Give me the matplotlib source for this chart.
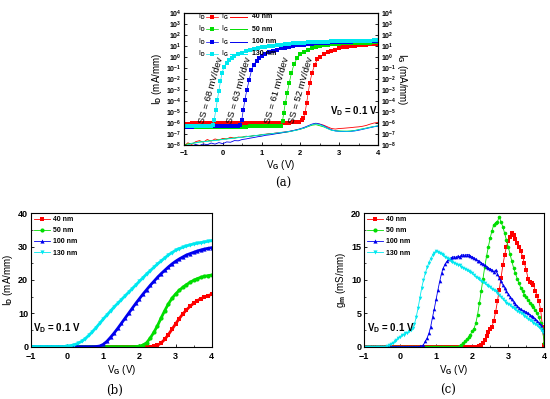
import matplotlib
matplotlib.use("Agg")
import matplotlib.pyplot as plt
from matplotlib.lines import Line2D
from matplotlib.ticker import NullLocator, MultipleLocator
import numpy as np

plt.rcParams.update({
    "font.family": ["Liberation Sans", "DejaVu Sans"],
    "font.weight": "bold",
    "mathtext.fontset": "custom",
    "mathtext.rm": "Liberation Sans:bold",
    "mathtext.bf": "Liberation Sans:bold",
    "mathtext.it": "Liberation Sans:bold",
    "axes.linewidth": 0.8,
})

NAMES = ["40 nm", "50 nm", "100 nm", "130 nm"]
COLORS = ["#FF0000", "#00DD00", "#0000EE", "#00E8F0"]
MARKERS = ["s", "o", "^", "v"]
SS_TEXT = ["SS = 52 mV/dev", "SS = 61 mV/dev", "SS = 63 mV/dev", "SS = 68 mV/dev"]
SS_POS = [(2.01, 1e-3), (1.40, 1e-3), (0.41, 1e-3), (-0.31, 1e-3)]

# ---------- (a) transfer curves, log scale ----------
VG_A_40 = [-1.0, -0.9, -0.8, -0.7, -0.6, -0.5, -0.4, -0.3, -0.2, -0.1, 0.0, 0.1, 0.2, 0.3, 0.4,
           0.5, 0.6, 0.7, 0.8, 0.9, 1.0, 1.1, 1.2, 1.3, 1.4, 1.5, 1.6, 1.7, 1.8, 1.9,
           1.96, 2.04, 2.08, 2.12, 2.16, 2.2, 2.24, 2.3, 2.37, 2.44,
           2.5, 2.6, 2.7, 2.8, 2.9, 3.0, 3.1, 3.2, 3.3, 3.4, 3.5, 3.6, 3.7, 3.8, 3.9, 4.0]
ID_A_40 = [9.0e-7, 9.0e-7, 9.1e-7, 9.1e-7, 9.2e-7, 9.2e-7, 9.3e-7, 9.3e-7, 9.4e-7, 9.4e-7,
           9.5e-7, 9.5e-7, 9.6e-7, 9.6e-7, 9.7e-7, 9.7e-7, 9.8e-7, 9.8e-7, 9.9e-7, 1.0e-6,
           1.0e-6, 1.01e-6, 1.02e-6, 1.03e-6, 1.04e-6, 1.05e-6, 1.07e-6, 1.09e-6, 1.12e-6, 1.15e-6,
           1.3e-6, 1.7e-6, 3e-6, 8e-6, 6e-5, 5e-4, 4e-3, 3.5e-2, 0.2, 0.6,
           1.0, 1.7, 2.6, 3.6, 4.8, 6.1, 7.4, 8.6, 9.7, 10.7, 11.6, 12.4, 13.1, 13.8, 14.4, 15.0]

VG_A_50 = [-1.0, -0.9, -0.8, -0.7, -0.6, -0.5, -0.4, -0.3, -0.2, -0.1, 0.0, 0.1, 0.2, 0.3, 0.4,
           0.5, 0.6, 0.7, 0.8, 0.9, 1.0, 1.1, 1.2, 1.3, 1.4, 1.5,
           1.54, 1.57, 1.61, 1.66, 1.71, 1.77, 1.84, 1.92, 2.0,
           2.1, 2.2, 2.3, 2.4, 2.5, 2.6, 2.7, 2.8, 2.9, 3.0, 3.1, 3.2, 3.3, 3.4, 3.5, 3.6, 3.7,
           3.8, 3.9, 4.0]
ID_A_50 = [4.3e-7, 4.3e-7, 4.4e-7, 4.4e-7, 4.4e-7, 4.5e-7, 4.5e-7, 4.5e-7, 4.6e-7, 4.6e-7,
           4.6e-7, 4.7e-7, 4.7e-7, 4.7e-7, 4.8e-7, 4.8e-7, 4.8e-7, 4.9e-7, 4.9e-7, 4.9e-7,
           5.0e-7, 5.0e-7, 5.0e-7, 5.1e-7, 5.1e-7, 5.2e-7,
           1.5e-6, 8e-6, 6e-5, 5e-4, 4e-3, 3.5e-2, 0.25, 0.8, 1.7,
           3.0, 4.6, 6.4, 8.2, 10.0, 11.7, 13.2, 14.5, 15.6, 16.5, 17.3, 18.0, 18.6, 19.1, 19.6,
           20.0, 20.4, 20.8, 21.1, 21.4]

VG_A_100 = [-1.0, -0.9, -0.8, -0.7, -0.6, -0.5, -0.4, -0.3, -0.2, -0.1, 0.0, 0.1, 0.2, 0.3, 0.4,
            0.45, 0.49, 0.53, 0.57, 0.62, 0.68, 0.74, 0.8, 0.87, 0.94,
            1.0, 1.1, 1.2, 1.3, 1.4, 1.5, 1.6, 1.7, 1.8, 1.9, 2.0, 2.1, 2.2, 2.3, 2.4, 2.5, 2.6,
            2.7, 2.8, 2.9, 3.0, 3.1, 3.2, 3.3, 3.4, 3.5, 3.6, 3.7, 3.8, 3.9, 4.0]
ID_A_100 = [4.8e-7, 4.8e-7, 4.8e-7, 4.9e-7, 4.9e-7, 4.9e-7, 4.9e-7, 5.0e-7, 5.0e-7, 5.0e-7,
            5.0e-7, 5.1e-7, 5.1e-7, 5.1e-7, 5.2e-7,
            7e-7, 2e-6, 1.6e-5, 1.3e-4, 1e-3, 8e-3, 6e-2, 0.2, 0.45, 0.8,
            1.2, 1.9, 2.7, 3.7, 4.8, 6.0, 7.3, 8.6, 9.9, 11.2, 12.5, 13.7, 14.9, 16.1, 17.2,
            18.3, 19.3, 20.3, 21.2, 22.1, 22.9, 23.7, 24.4, 25.1, 25.8, 26.4, 27.0, 27.6, 28.1,
            28.6, 29.1]

VG_A_130 = [-1.0, -0.9, -0.8, -0.7, -0.6, -0.5, -0.4, -0.3,
            -0.26, -0.22, -0.18, -0.14, -0.1, -0.06, -0.02, 0.03, 0.1, 0.17, 0.24,
            0.3, 0.4, 0.5, 0.6, 0.7, 0.8, 0.9, 1.0, 1.1, 1.2, 1.3, 1.4, 1.5, 1.6, 1.7, 1.8, 1.9,
            2.0, 2.1, 2.2, 2.3, 2.4, 2.5, 2.6, 2.7, 2.8, 2.9, 3.0, 3.1, 3.2, 3.3, 3.4, 3.5, 3.6,
            3.7, 3.8, 3.9, 4.0]
ID_A_130 = [5.4e-7, 5.4e-7, 5.5e-7, 5.5e-7, 5.5e-7, 5.6e-7, 5.6e-7, 5.7e-7,
            7e-7, 2e-6, 1.5e-5, 1.2e-4, 9e-4, 6e-3, 3.5e-2, 0.12, 0.3, 0.55, 0.9,
            1.2, 1.8, 2.5, 3.3, 4.2, 5.2, 6.3, 7.4, 8.6, 9.8, 11.0, 12.2, 13.4, 14.6, 15.8, 16.9,
            18.0, 19.1, 20.1, 21.1, 22.1, 23.0, 23.9, 24.8, 25.6, 26.4, 27.1, 27.8, 28.4, 29.0,
            29.5, 30.0, 30.4, 30.8, 31.2, 31.5, 31.8, 32.1]

# gate leakage, log10 of I_G (mA/mm)
VG_IG = [-1.0, -0.9, -0.8, -0.7, -0.6, -0.5, -0.4, -0.3, -0.2, -0.1, 0.0, 0.1, 0.2, 0.3, 0.4,
         0.5, 0.6, 0.7, 0.8, 0.9, 1.0, 1.1, 1.2, 1.3, 1.4, 1.5, 1.6, 1.7, 1.8, 1.9, 2.0, 2.1,
         2.2, 2.3, 2.4, 2.5, 2.6, 2.7, 2.8, 2.9, 3.0, 3.1, 3.2, 3.3, 3.4, 3.5, 3.6, 3.7, 3.8,
         3.9, 4.0]
LOG_IG_40 = [-8.1, -7.8, -7.95, -7.7, -7.6, -7.75, -7.5, -7.65, -7.45, -7.55, -7.4, -7.45,
             -7.3, -7.38, -7.28, -7.3, -7.2, -7.25, -7.12, -7.15, -7.05, -7.02, -6.96, -6.95,
             -6.88, -6.87, -6.8, -6.76, -6.7, -6.62, -6.55, -6.45, -6.3, -6.15, -6.05, -6.1,
             -6.2, -6.35, -6.5, -6.55, -6.5, -6.48, -6.45, -6.42, -6.38, -6.35, -6.3, -6.22,
             -6.1, -6.0, -5.95]
LOG_IG_50 = [-8.0, -7.9, -7.85, -7.8, -7.72, -7.7, -7.65, -7.6, -7.58, -7.52, -7.48, -7.44,
             -7.4, -7.36, -7.32, -7.28, -7.24, -7.2, -7.16, -7.12, -7.08, -7.04, -7.0, -6.98,
             -6.95, -6.9, -6.85, -6.8, -6.72, -6.65, -6.56, -6.45, -6.32, -6.2, -6.15, -6.25,
             -6.35, -6.5, -6.65, -6.7, -6.72, -6.74, -6.74, -6.72, -6.68, -6.6, -6.53, -6.46,
             -6.38, -6.32, -6.27]
LOG_IG_100 = [-8.3, -8.2, -8.1, -7.95, -8.05, -7.9, -7.98, -7.82, -7.92, -7.78, -7.88, -7.72,
              -7.75, -7.6, -7.62, -7.5, -7.45, -7.38, -7.32, -7.25, -7.2, -7.12, -7.08, -7.02,
              -6.96, -6.9, -6.84, -6.78, -6.7, -6.62, -6.52, -6.4, -6.25, -6.1, -6.02, -6.1,
              -6.25, -6.45, -6.62, -6.72, -6.76, -6.78, -6.78, -6.76, -6.72, -6.66, -6.58, -6.5,
              -6.42, -6.34, -6.28]
LOG_IG_130 = [-8.1, -8.0, -7.85, -7.8, -7.75, -7.7, -7.68, -7.62, -7.6, -7.55, -7.5, -7.45,
              -7.42, -7.38, -7.33, -7.3, -7.25, -7.2, -7.17, -7.12, -7.08, -7.03, -7.0, -6.95,
              -6.9, -6.85, -6.82, -6.78, -6.72, -6.65, -6.55, -6.45, -6.3, -6.15, -6.08, -6.15,
              -6.3, -6.5, -6.65, -6.72, -6.75, -6.75, -6.76, -6.75, -6.7, -6.62, -6.55, -6.48,
              -6.4, -6.32, -6.25]

# ---------- (b) transfer curves, linear ----------
VG_B = [-1.0, -0.9, -0.8, -0.7, -0.6, -0.5, -0.4, -0.3, -0.2, -0.1, 0.0, 0.1, 0.2, 0.3, 0.4,
        0.5, 0.6, 0.7, 0.8, 0.9, 1.0, 1.1, 1.2, 1.3, 1.4, 1.5, 1.6, 1.7, 1.8, 1.9, 2.0, 2.1,
        2.2, 2.3, 2.4, 2.5, 2.6, 2.7, 2.8, 2.9, 3.0, 3.1, 3.2, 3.3, 3.4, 3.5, 3.6, 3.7, 3.8,
        3.9, 4.0]
ID_B_40 = [0, 0, 0, 0, 0, 0, 0, 0, 0, 0, 0, 0, 0, 0, 0, 0, 0, 0, 0, 0, 0, 0, 0, 0, 0, 0, 0,
           0, 0, 0, 0, 0, 0, 0,
           0.1, 0.4, 1.1, 2.2, 3.6, 5.2, 6.8, 8.4, 9.8, 11.0, 12.1, 13.0, 13.8, 14.4, 14.9,
           15.3, 15.7]
ID_B_50 = [0, 0, 0, 0, 0, 0, 0, 0, 0, 0, 0, 0, 0, 0, 0, 0, 0, 0, 0, 0, 0, 0, 0, 0, 0, 0, 0,
           0, 0,
           0.05, 0.15, 0.5, 1.2, 2.6, 4.3, 6.3, 8.6, 10.8, 12.8, 14.5, 15.8, 16.9, 17.8, 18.6,
           19.3, 19.9, 20.4, 20.8, 21.1, 21.3, 21.5]
ID_B_100 = [0, 0, 0, 0, 0, 0, 0, 0, 0, 0, 0, 0, 0, 0, 0, 0, 0, 0,
            0.05, 0.2, 0.7, 1.6, 2.8, 4.1, 5.5, 7.0, 8.5, 10.0, 11.5, 13.0, 14.4, 15.8, 17.1,
            18.4, 19.6, 20.8, 21.9, 22.9, 23.9, 24.8, 25.6, 26.3, 26.9, 27.5, 27.9, 28.3, 28.7,
            29.0, 29.3, 29.5, 29.7]
ID_B_130 = [0, 0, 0, 0, 0, 0, 0, 0, 0,
            0.02, 0.08, 0.3, 0.6, 1.0, 1.6, 2.4, 3.4, 4.5, 5.7, 7.0, 8.3, 9.5, 10.7, 11.9, 13.0,
            14.1, 15.2, 16.3, 17.4, 18.5, 19.6, 20.7, 21.8, 22.8, 23.8, 24.8, 25.7, 26.6, 27.5,
            28.2, 28.9, 29.4, 29.8, 30.2, 30.5, 30.8, 31.0, 31.2, 31.4, 31.6, 31.8]

# ---------- (c) transconductance ----------
VG_C = [-1.0, -0.95, -0.9, -0.85, -0.8, -0.75, -0.7, -0.65, -0.6, -0.55, -0.5, -0.45, -0.4,
        -0.35, -0.3, -0.25, -0.2, -0.15, -0.1, -0.05, 0.0, 0.05, 0.1, 0.15, 0.2, 0.25, 0.3,
        0.35, 0.4, 0.45, 0.5, 0.55, 0.6, 0.65, 0.7, 0.75, 0.8, 0.85, 0.9, 0.95, 1.0, 1.05,
        1.1, 1.15, 1.2, 1.25, 1.3, 1.35, 1.4, 1.45, 1.5, 1.55, 1.6, 1.65, 1.7, 1.75, 1.8,
        1.85, 1.9, 1.95, 2.0, 2.05, 2.1, 2.15, 2.2, 2.25, 2.3, 2.35, 2.4, 2.45, 2.5, 2.55,
        2.6, 2.65, 2.7, 2.75, 2.8, 2.85, 2.9, 2.95, 3.0, 3.05, 3.1, 3.15, 3.2, 3.25, 3.3,
        3.35, 3.4, 3.45, 3.5, 3.55, 3.6, 3.65, 3.7, 3.75, 3.8, 3.85, 3.9, 3.95, 4.0]
GM_40 = [0, 0, 0, 0, 0, 0, 0, 0, 0, 0, 0, 0, 0, 0, 0, 0, 0, 0, 0, 0, 0, 0, 0, 0, 0, 0, 0, 0,
         0, 0, 0, 0, 0, 0, 0, 0, 0, 0, 0, 0, 0, 0, 0, 0, 0, 0, 0, 0, 0, 0, 0, 0, 0, 0, 0, 0,
         0, 0, 0, 0, 0, 0, 0, 0, 0.05,
         0.2, 0.5, 1.0, 1.6, 2.2, 2.6, 3.0, 3.9, 5.2, 6.8, 8.5, 10.3, 12.2, 13.7, 15.0, 15.9,
         16.5, 17.0, 16.8, 16.2, 15.6, 15.0, 14.3, 13.5, 12.5, 11.5, 10.2, 9.7, 9.6, 9.3, 8.4,
         7.6, 6.8, 5.5, 3.0, 0.3]
GM_50 = [0, 0, 0, 0, 0, 0, 0, 0, 0, 0, 0, 0, 0, 0, 0, 0, 0, 0, 0, 0, 0, 0, 0, 0, 0, 0, 0, 0,
         0, 0, 0, 0, 0, 0, 0, 0, 0, 0, 0, 0, 0, 0, 0, 0, 0, 0, 0, 0, 0, 0, 0, 0, 0,
         0.1, 0.3, 0.5, 0.8, 1.1, 1.4, 1.8, 2.3, 2.7, 3.5, 4.8, 6.5, 8.3, 10.2, 12.0, 13.6,
         15.0, 16.3, 17.4, 18.3, 18.6, 18.7, 19.5, 18.7, 18.0, 17.0, 16.0, 15.0, 13.9, 12.8,
         11.8, 11.0, 10.2, 9.5, 8.8, 8.3, 7.8, 7.4, 7.0, 6.6, 6.2, 5.9, 5.5, 5.0, 4.4, 3.6,
         2.6, 0.5]
GM_100 = [0, 0, 0, 0, 0, 0, 0, 0, 0, 0, 0, 0, 0, 0, 0, 0, 0, 0, 0, 0, 0, 0, 0, 0, 0, 0, 0,
          0, 0, 0, 0,
          0.05, 0.12, 0.3, 0.8, 1.3, 2.0, 3.0, 4.4, 5.7, 7.1, 8.5, 9.8, 11.0, 11.8, 12.4, 12.8,
          13.1, 13.3, 13.4, 13.5, 13.4, 13.6, 13.5, 13.7, 13.8, 13.7, 13.8, 13.8, 13.6, 13.5,
          13.3, 13.1, 12.9, 12.8, 12.6, 12.4, 12.2, 12.0, 11.8, 11.7, 11.5, 11.2, 11.5, 10.9,
          10.3, 9.8, 9.3, 8.8, 8.3, 7.9, 7.5, 7.1, 6.7, 6.4, 6.1, 5.8, 5.6, 5.4, 5.3, 5.2,
          5.0, 4.8, 4.6, 4.4, 4.2, 3.9, 3.6, 3.2, 2.7, 2.2]
GM_130 = [0, 0, 0, 0, 0, 0, 0, 0, 0, 0, 0, 0, 0,
          0.05, 0.2, 0.4, 0.6, 0.8, 1.0, 1.3, 1.5, 1.7, 1.8, 2.0, 2.1, 2.3, 2.5, 2.8, 3.4, 4.5,
          5.8, 7.3, 8.8, 10.0, 11.0, 11.9, 12.6, 13.2, 13.7, 14.1, 14.3, 14.2, 14.0, 13.9,
          13.7, 13.5, 13.3, 13.1, 12.9, 12.7, 12.6, 12.4, 12.3, 12.2, 12.0, 11.8, 11.7, 11.5,
          11.3, 11.2, 11.0, 10.8, 10.5, 10.3, 10.1, 9.9, 9.7, 9.5, 9.3, 9.1, 9.0, 8.7, 8.5,
          8.3, 8.0, 7.8, 7.5, 7.2, 6.9, 6.6, 6.4, 6.3, 6.0, 5.8, 5.6, 5.4, 5.2, 5.1, 4.9,
          4.6, 4.4, 4.2, 4.0, 3.8, 3.6, 3.4, 3.2, 2.9, 2.7, 2.3, 2.0]

ID_A = [(VG_A_40, ID_A_40), (VG_A_50, ID_A_50), (VG_A_100, ID_A_100), (VG_A_130, ID_A_130)]
LOG_IG = [LOG_IG_40, LOG_IG_50, LOG_IG_100, LOG_IG_130]
ID_B = [ID_B_40, ID_B_50, ID_B_100, ID_B_130]
GM = [GM_40, GM_50, GM_100, GM_130]

fig = plt.figure(figsize=(5.5, 3.99), dpi=100)


def style_axis(ax, size=6):
    ax.tick_params(direction="in", length=2.5, width=0.6, labelsize=size, pad=2)
    ax.tick_params(axis="x", pad=3.5)
    ax.tick_params(which="minor", direction="in", length=1.5, width=0.5)
    ax.set_xlim(-1, 4)
    ax.xaxis.set_major_locator(MultipleLocator(1))
    ax.xaxis.set_minor_locator(MultipleLocator(0.5))


# ---- panel (a)
ax = fig.add_axes([0.3345, 0.6366, 0.3527, 0.3308])
for (vg, idv), lig, c in zip(ID_A, LOG_IG, COLORS):
    ax.plot(VG_IG, np.power(10.0, lig), color=c, lw=0.6)
for (vg, idv), c in zip(ID_A, COLORS):
    ax.plot(vg, idv, color=c, lw=0.5, marker="s", ms=2.7, mec=c, mew=0)
ax.set_yscale("log")
ax.set_ylim(1e-8, 1e4)
exps = list(range(-8, 5))
ylabels = [r"$\mathbf{10^{%d}}$" % e for e in exps]
ax.set_yticks([10.0 ** e for e in exps])
ax.set_yticklabels(ylabels)
ax.yaxis.set_minor_locator(NullLocator())
style_axis(ax, 5)
ax.tick_params(axis="x", labelsize=5.5)
ax.set_xlabel(r"V$_\mathbf{G}$ (V)", fontsize=7, labelpad=1)
ax.set_ylabel(r"I$_\mathbf{D}$ (mA/mm)", fontsize=7, labelpad=1)
axr = ax.twinx()
axr.set_yscale("log")
axr.set_ylim(1e-8, 1e4)
axr.set_yticks([10.0 ** e for e in exps])
axr.set_yticklabels(ylabels)
axr.yaxis.set_minor_locator(NullLocator())
axr.tick_params(direction="in", length=2.5, width=0.6, labelsize=5, pad=2)
axr.set_ylabel(r"I$_\mathbf{G}$ (mA/mm)", fontsize=7, rotation=270, labelpad=9)

for txt, (x, y) in zip(SS_TEXT, SS_POS):
    ax.text(x, y, txt, rotation=74, rotation_mode="anchor", ha="center", va="center",
            fontsize=6.8, fontweight="normal")
ax.text(0.876, 0.258, r"V$_\mathbf{D}$ = 0.1 V", transform=ax.transAxes, fontsize=7,
        ha="center", va="center")

# manual legend I_D / I_G per width
for i, (name, c) in enumerate(zip(NAMES, COLORS)):
    y = 0.972 - i * 0.094
    ax.text(0.09, y, r"I$_\mathbf{D}$", transform=ax.transAxes, fontsize=5,
            fontweight="normal", ha="center", va="center")
    ax.plot([0.113, 0.177], [y, y], transform=ax.transAxes, color=c, lw=0.5)
    ax.plot([0.145], [y], transform=ax.transAxes, color=c, marker="s", ms=2.6, mew=0)
    ax.text(0.211, y, r"I$_\mathbf{G}$", transform=ax.transAxes, fontsize=5,
            fontweight="normal", ha="center", va="center")
    ax.plot([0.237, 0.323], [y, y], transform=ax.transAxes, color=c, lw=0.7)
    ax.text(0.349, y, name, transform=ax.transAxes, fontsize=5, ha="left", va="center")

# ---- panel (b)
axb = fig.add_axes([0.0564, 0.1311, 0.3285, 0.3343])
for idv, c, m in zip(ID_B, COLORS, MARKERS):
    axb.plot(VG_B, idv, color=c, lw=2.0, marker=m, ms=3, mew=0)
axb.set_ylim(0, 40)
axb.yaxis.set_major_locator(MultipleLocator(10))
axb.yaxis.set_minor_locator(MultipleLocator(5))
style_axis(axb, 6.5)
axb.set_xlabel(r"V$_\mathbf{G}$ (V)", fontsize=7, labelpad=2)
axb.set_ylabel(r"I$_\mathbf{D}$ (mA/mm)", fontsize=7, labelpad=2)
handles = [Line2D([], [], color=c, lw=0.6, marker=m, ms=3, mew=0) for c, m in zip(COLORS, MARKERS)]
axb.legend(handles, NAMES, loc="upper left", fontsize=5, frameon=False, handlelength=2.3,
           handletextpad=0.5, labelspacing=0.6, borderaxespad=0.2, borderpad=0.2)
axb.text(0.01, 0.142, r"V$_\mathbf{D}$ = 0.1 V", transform=axb.transAxes, fontsize=7,
         ha="left", va="center")

# ---- panel (c)
axc = fig.add_axes([0.6618, 0.1311, 0.3278, 0.3343])
for gm, c, m in zip(GM, COLORS, MARKERS):
    axc.plot(VG_C, gm, color=c, lw=0.6, marker=m, ms=2.6, mew=0)
axc.set_ylim(0, 20)
axc.yaxis.set_major_locator(MultipleLocator(5))
axc.yaxis.set_minor_locator(MultipleLocator(2.5))
style_axis(axc, 6.5)
axc.set_xlabel(r"V$_\mathbf{G}$ (V)", fontsize=7, labelpad=2)
axc.set_ylabel(r"g$_\mathbf{m}$ (mS/mm)", fontsize=7, labelpad=2)
axc.legend(handles, NAMES, loc="upper left", fontsize=5, frameon=False, handlelength=2.3,
           handletextpad=0.5, labelspacing=0.6, borderaxespad=0.2, borderpad=0.2)
axc.text(0.015, 0.142, r"V$_\mathbf{D}$ = 0.1 V", transform=axc.transAxes, fontsize=7,
         ha="left", va="center")

for lbl, x, y in [("(a)", 0.5145, 0.5414), ("(b)", 0.209, 0.0226), ("(c)", 0.8145, 0.0226)]:
    fig.text(x, y, lbl, family="DejaVu Serif", fontsize=8.5, fontweight="normal",
             ha="center", va="center")

fig.savefig("out.png", dpi=100)
